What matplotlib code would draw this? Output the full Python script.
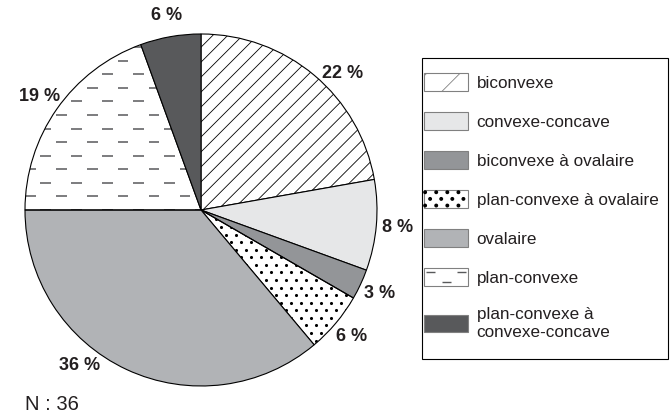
import numpy as np
import matplotlib
matplotlib.use("Agg")
import matplotlib.pyplot as plt
from matplotlib.patches import Rectangle
from matplotlib.collections import LineCollection
from matplotlib.legend_handler import HandlerBase, HandlerPatch

plt.rcParams['font.family'] = ['Liberation Sans', 'DejaVu Sans']
plt.rcParams['hatch.linewidth'] = 0.6

# shape categories (N : 36)
labels = ["biconvexe", "convexe-concave", "biconvexe à ovalaire", "plan-convexe à ovalaire",
          "ovalaire", "plan-convexe", "plan-convexe à\nconvexe-concave"]
counts = [8, 3, 1, 2, 13, 7, 2]
colors = ["white", "#e6e7e8", "#939598", "white", "#b1b3b6", "white", "#58595b"]
hatches = ["lines", None, None, "dots", None, "dashes", None]
# small angle nudges (deg) for the percentage labels
label_shift = [-6, 0, 0, 0, -13, 0, 0]

txt_col = "#231f20"

fig = plt.figure(figsize=(6.7, 4.13), dpi=100)
ax = fig.add_axes([0.0373, 0.0654, 0.5254, 0.8523])

wedges, _ = ax.pie(counts, colors=colors, startangle=90, counterclock=False, radius=1,
                   wedgeprops=dict(edgecolor="black", linewidth=0.8))
ax.set_xlim(-1, 1)
ax.set_ylim(-1, 1)
ax.set_aspect("equal")
ax.axis("off")

total = sum(counts)
for i, w in enumerate(wedges):
    w.set_zorder(4)
    w.set_facecolor("none" if hatches[i] else colors[i])
    if hatches[i] == "lines":
        segs = []
        for c in np.arange(-2.2, 2.2, 0.085):
            segs.append([(c - 1.2, -1.2), (c + 1.2, 1.2)])
        lc = LineCollection(segs, colors="black", linewidths=0.6, zorder=3)
        ax.add_collection(lc)
        lc.set_clip_path(w)
    elif hatches[i] == "dots":
        xs, ys = [], []
        for j, y in enumerate(np.arange(-1, 1, 0.043)):
            off = 0.0285 if j % 2 else 0
            for x in np.arange(-1 + off, 1, 0.057):
                xs.append(x)
                ys.append(y)
        sc = ax.scatter(xs, ys, s=5, color="black", linewidths=0, zorder=3)
        sc.set_clip_path(w)
    elif hatches[i] == "dashes":
        segs = []
        for j, y in enumerate(np.arange(-1, 1, 0.077)):
            off = 0.088 if j % 2 else 0
            for x in np.arange(-1 + off, 1, 0.176):
                segs.append([(x, y), (x + 0.06, y)])
        lc = LineCollection(segs, colors="#58595b", linewidths=1.1, zorder=3)
        ax.add_collection(lc)
        lc.set_clip_path(w)

    ang = np.deg2rad((w.theta1 + w.theta2) / 2 + label_shift[i])
    pct = 100 * counts[i] / total
    ax.text(1.12 * np.cos(ang), 1.12 * np.sin(ang), f"{pct:.0f} %", ha="center", va="center",
            fontsize=13, fontweight="bold", color=txt_col)


class DashHandler(HandlerBase):
    def create_artists(self, legend, orig_handle, xdescent, ydescent, width, height, fontsize, trans):
        x0, y0 = -xdescent, -ydescent
        rect = Rectangle((x0, y0), width, height, facecolor="white", edgecolor="#808080",
                         linewidth=0.8, transform=trans)
        segs = [[(x0 + 0.05 * width, y0 + 0.8 * height), (x0 + 0.25 * width, y0 + 0.8 * height)],
                [(x0 + 0.75 * width, y0 + 0.8 * height), (x0 + 0.95 * width, y0 + 0.8 * height)],
                [(x0 + 0.4 * width, y0 + 0.2 * height), (x0 + 0.6 * width, y0 + 0.2 * height)]]
        lc = LineCollection(segs, colors="#58595b", linewidths=1.0, transform=trans)
        return [rect, lc]


class DotHandler(HandlerBase):
    def create_artists(self, legend, orig_handle, xdescent, ydescent, width, height, fontsize, trans):
        x0, y0 = -xdescent, -ydescent
        rect = Rectangle((x0, y0), width, height, facecolor="white", edgecolor="#808080",
                         linewidth=0.8, transform=trans)
        arts = [rect]
        for k in range(4):
            for r, yy in enumerate([0.88, 0.5, 0.12]):
                xx = (k + (0.55 if r % 2 else 0.1)) / 4.0
                if xx > 0.97:
                    continue
                c = plt.Circle((x0 + xx * width, y0 + yy * height), 0.9, color="black", transform=trans)
                arts.append(c)
        return arts


handles = []
handler_map = {}
for i in range(len(labels)):
    h = Rectangle((0, 0), 1, 1, facecolor=colors[i], edgecolor="#808080", linewidth=0.8,
                  hatch="/" if hatches[i] == "lines" else None)
    handles.append(h)
    if hatches[i] == "dashes":
        handler_map[h] = DashHandler()
    elif hatches[i] == "dots":
        handler_map[h] = DotHandler()
    else:
        handler_map[h] = HandlerPatch()

leg = fig.legend(handles, labels, handler_map=handler_map, loc="upper left",
                 bbox_to_anchor=(424 / 670, 1 - 73 / 413), fontsize=12.3,
                 handlelength=2.6, handleheight=1.2, labelspacing=1.26, handletextpad=0.48,
                 borderpad=0, borderaxespad=0, frameon=False, labelcolor=txt_col)

# legend frame
fig.patches.append(Rectangle((422 / 670, 1 - 359 / 413), 246 / 670, 301 / 413,
                             transform=fig.transFigure, fill=False, edgecolor="black", linewidth=0.8))

fig.text(25 / 670, 1 - 404 / 413, "N : 36", ha="left", va="center", fontsize=14.5, color=txt_col)

fig.savefig("out.png", dpi=100)
